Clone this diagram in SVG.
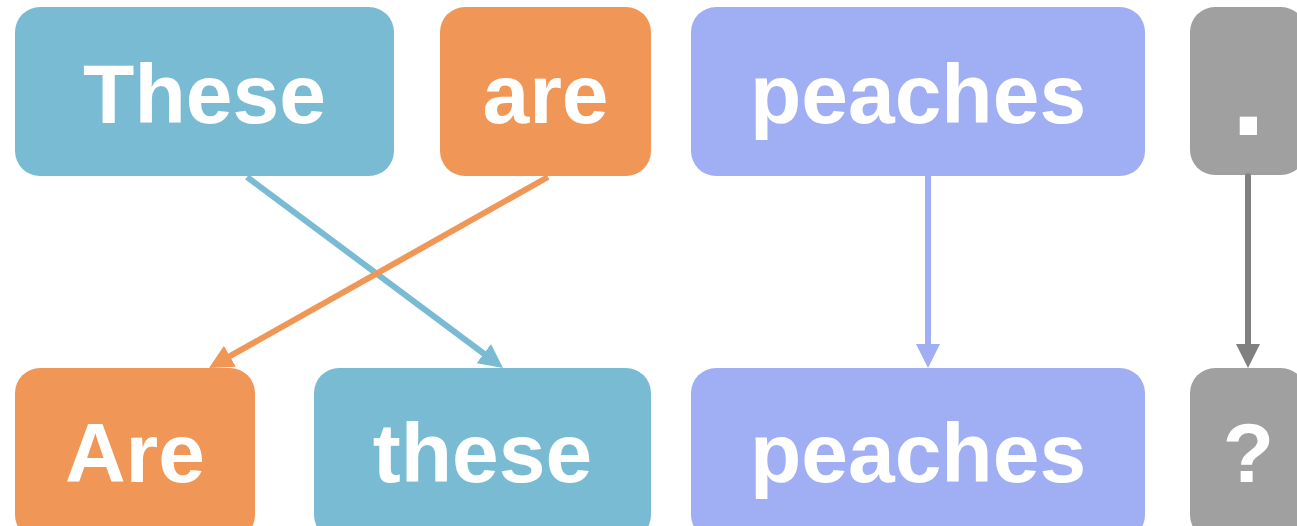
<svg xmlns="http://www.w3.org/2000/svg" width="1297" height="526" viewBox="0 0 1297 526">
<style>
.lbl{font-family:"Liberation Sans",Arial,sans-serif;font-weight:bold;font-size:84px;fill:#fff;text-anchor:middle}
.big{font-size:122px}
.blue{fill:#7ABBD4}.orange{fill:#F09656}.purple{fill:#A0AFF3}.gray{fill:#A0A0A0}
.edge{fill:none;stroke-width:6}
</style>
<defs>
<marker id="mBlue" markerUnits="userSpaceOnUse" markerWidth="24" markerHeight="24" refX="4" refY="12" orient="auto"><path d="M0,0 L24,12 L0,24 z" fill="#7ABBD4"/></marker>
<marker id="mOrange" markerUnits="userSpaceOnUse" markerWidth="24" markerHeight="24" refX="4" refY="12" orient="auto"><path d="M0,0 L24,12 L0,24 z" fill="#F09656"/></marker>
<marker id="mPurple" markerUnits="userSpaceOnUse" markerWidth="24" markerHeight="24" refX="4" refY="12" orient="auto"><path d="M0,0 L24,12 L0,24 z" fill="#A0AFF3"/></marker>
<marker id="mGray" markerUnits="userSpaceOnUse" markerWidth="24" markerHeight="24" refX="4" refY="12" orient="auto"><path d="M0,0 L24,12 L0,24 z" fill="#808080"/></marker>
</defs>
<rect width="1297" height="526" fill="#fff"/>
<g id="n-These"><rect class="blue" x="15" y="7" width="379" height="169" rx="25"/><text class="lbl" x="204.5" y="123">These</text></g>
<g id="n-are"><rect class="orange" x="440" y="7" width="211" height="169" rx="25"/><text class="lbl" x="545.5" y="123">are</text></g>
<g id="n-peaches1"><rect class="purple" x="691" y="7" width="454" height="169" rx="25"/><text class="lbl" x="918" y="123">peaches</text></g>
<g id="n-dot"><rect class="gray" x="1190" y="7" width="116" height="168" rx="25"/><text class="lbl big" x="1248.5" y="135">.</text></g>
<g id="n-Are"><rect class="orange" x="15" y="368" width="240" height="172" rx="25"/><text class="lbl" x="135" y="482">Are</text></g>
<g id="n-these"><rect class="blue" x="314" y="368" width="337" height="172" rx="25"/><text class="lbl" x="482.5" y="482">these</text></g>
<g id="n-peaches2"><rect class="purple" x="691" y="368" width="454" height="172" rx="25"/><text class="lbl" x="918" y="482">peaches</text></g>
<g id="n-q"><rect class="gray" x="1190" y="368" width="116" height="172" rx="25"/><text class="lbl" x="1248.5" y="482">?</text></g>
<g id="edges">
<path class="edge" d="M247,177 L487,356" stroke="#7ABBD4" marker-end="url(#mBlue)"/>
<path class="edge" d="M548,177 L226.4,358.2" stroke="#F09656" marker-end="url(#mOrange)"/>
<path class="edge" d="M928,176 L928,348" stroke="#A0AFF3" marker-end="url(#mPurple)"/>
<path class="edge" d="M1248,176 L1248,348" stroke="#808080" stroke-linecap="round" marker-end="url(#mGray)"/>
</g>
</svg>
